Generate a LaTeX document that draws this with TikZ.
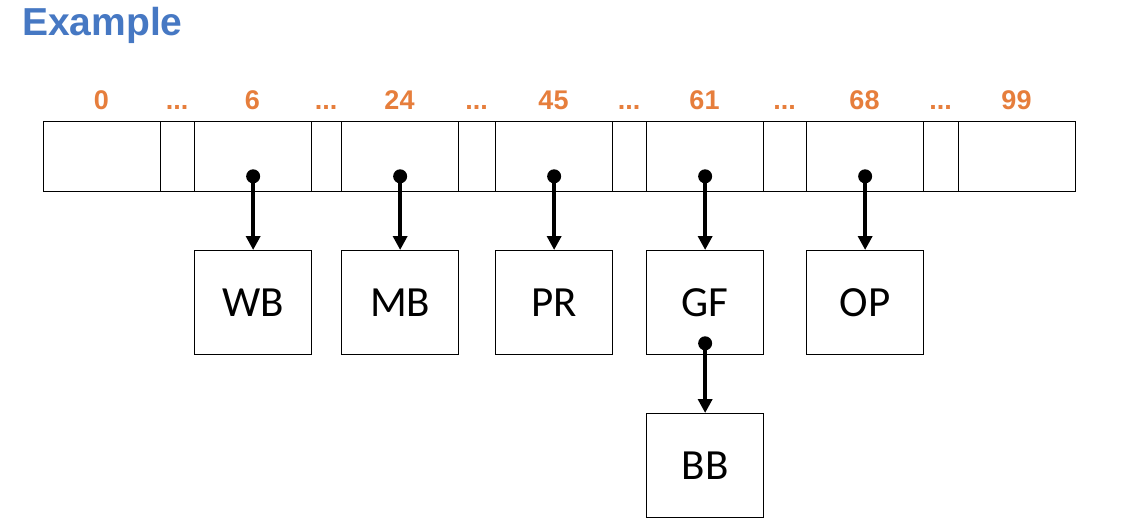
\documentclass[tikz,border=0pt]{standalone}
\usepackage{fontspec}
\setmainfont{Liberation Sans}
\newfontfamily\boxfont{Carlito}
\usetikzlibrary{arrows.meta}
\definecolor{idxorange}{HTML}{E67E3C}
\definecolor{titleblue}{HTML}{4678C3}
\newcommand{\gapdots}{...}
\begin{document}
\begin{tikzpicture}[x=1pt,y=-1pt,
    cell/.style={draw, line width=1.3pt, minimum height=70pt, inner sep=0pt, anchor=north west},
    item/.style={draw, line width=1.3pt, minimum width=117pt, minimum height=104pt, inner sep=0pt, anchor=north west, font=\boxfont\fontsize{43}{50}\selectfont},
    idx/.style={anchor=base, inner sep=0pt, text=idxorange, font=\bfseries\fontsize{27}{32}\selectfont},
    ptr/.style={line width=3.5pt, -{Triangle[length=14pt,width=14pt]}},
    dot/.style={circle, fill, inner sep=0pt, minimum size=14pt}]
    \useasboundingbox (0,0) rectangle (1148,531);

    \node [anchor=west, inner sep=0pt, text=titleblue, font=\bfseries\fontsize{39}{44}\selectfont] (title) at (22,25) {Example};

    % the array and its indices
    \foreach \name/\xa/\xb/\lbl in {c0/43/160/0, g1/160/194/\gapdots, c6/194/311/6, g2/311/341/\gapdots,
        c24/341/458/24, g3/458/495/\gapdots, c45/495/612/45, g4/612/646/\gapdots,
        c61/646/763/61, g5/763/806/\gapdots, c68/806/923/68, g6/923/958/\gapdots, c99/958/1075/99} {
        \node [cell, minimum width={\xb-\xa}] (\name) at (\xa,121) {};
        \node [idx] (l\name) at ({(\xa+\xb)/2},109.5) {\lbl};
    }

    % the entries
    \node [item] (wb) at (194,250) {WB};
    \node [item] (mb) at (341,250) {MB};
    \node [item] (pr) at (495,250) {PR};
    \node [item] (gf) at (646,250) {GF};
    \node [item] (op) at (806,250) {OP};
    \node [item] (bb) at (646,413) {BB};

    % pointers
    \node [dot] (d6) at ([yshift=16pt]c6.south) {};
    \node [dot] (d24) at ([yshift=16pt]c24.south) {};
    \node [dot] (d45) at ([yshift=16pt]c45.south) {};
    \node [dot] (d61) at ([yshift=16pt]c61.south) {};
    \node [dot] (d68) at ([yshift=16pt]c68.south) {};
    \node [dot] (dgf) at ([yshift=12pt]gf.south) {};

    \draw [ptr] (d6.center) -- (wb.north);
    \draw [ptr] (d24.center) -- (mb.north);
    \draw [ptr] (d45.center) -- (pr.north);
    \draw [ptr] (d61.center) -- (gf.north);
    \draw [ptr] (d68.center) -- (op.north);
    \draw [ptr] (dgf.center) -- (bb.north);
\end{tikzpicture}
\end{document}
